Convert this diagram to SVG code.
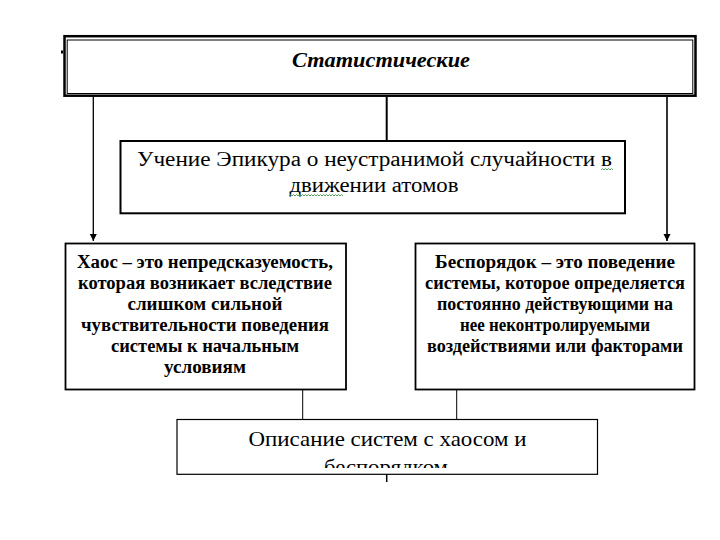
<svg xmlns="http://www.w3.org/2000/svg" width="720" height="540" viewBox="0 0 720 540" font-family="'Liberation Serif', 'Times New Roman', serif">
<style>
.box{fill:#fff;stroke:#000}
.t{fill:#000;text-anchor:middle}
.b{font-weight:bold;font-size:18px}
.c{stroke:#000;fill:none}
.sq{stroke:#2e8b2e;stroke-width:0.8;fill:none}
</style>
<defs>
<marker id="ar" markerWidth="8" markerHeight="8" refX="7" refY="4" orient="auto" markerUnits="userSpaceOnUse">
<path d="M0,0.5 L7,4 L0,7.5 Z" fill="#000"/>
</marker>
<clipPath id="clipB"><rect x="177" y="420" width="420" height="48"/></clipPath>
</defs>
<rect width="720" height="540" fill="#fff"/>

<g id="connectors">
<line class="c" x1="386.7" y1="97" x2="386.7" y2="141" stroke-width="2"/>
<line class="c" x1="93.3" y1="97" x2="93.3" y2="241" stroke-width="1.3" marker-end="url(#ar)"/>
<line class="c" x1="667" y1="97" x2="667" y2="241" stroke-width="1.6" marker-end="url(#ar)"/>
<line class="c" x1="302.7" y1="390" x2="302.7" y2="419.5" stroke-width="1"/>
<line class="c" x1="456.7" y1="390" x2="456.7" y2="419.5" stroke-width="1"/>
<line class="c" x1="386.7" y1="474" x2="386.7" y2="482" stroke-width="1.5"/>
</g>

<g id="top" font-family="Liberation Serif, serif">
<rect x="61" y="50.5" width="2" height="3" fill="#000"/>
<rect class="box" x="64.5" y="36.2" width="631" height="59.5" stroke-width="2.5"/>
<rect x="67.2" y="40" width="625.6" height="53.5" fill="none" stroke="#000" stroke-width="1"/>
<text class="t" x="381" y="67" font-size="20" font-weight="bold" font-style="italic" textLength="178" lengthAdjust="spacingAndGlyphs">Статистические</text>
</g>

<g id="epicurus" font-family="Liberation Serif, serif">
<rect class="box" x="120.5" y="141" width="504.5" height="72.3" stroke-width="2"/>
<text class="t" x="374.5" y="166" font-size="20" textLength="475" lengthAdjust="spacingAndGlyphs">Учение Эпикура о неустранимой случайности в</text>
<text class="t" x="374" y="192" font-size="20" textLength="169" lengthAdjust="spacingAndGlyphs">движении атомов</text>
<path class="sq" d="M601,170 l1.5,-1.5 l1.5,1.5 l1.5,-1.5 l1.5,1.5 l1.5,-1.5 l1.5,1.5 l1.5,-1.5 l1.5,1.5"/>
<path class="sq" d="M289,196 l1.5,-1.5 l1.5,1.5 l1.5,-1.5 l1.5,1.5 l1.5,-1.5 l1.5,1.5 l1.5,-1.5 l1.5,1.5 l1.5,-1.5 l1.5,1.5 l1.5,-1.5 l1.5,1.5 l1.5,-1.5 l1.5,1.5 l1.5,-1.5 l1.5,1.5 l1.5,-1.5 l1.5,1.5 l1.5,-1.5 l1.5,1.5 l1.5,-1.5 l1.5,1.5 l1.5,-1.5 l1.5,1.5 l1.5,-1.5 l1.5,1.5 l1.5,-1.5 l1.5,1.5 l1.5,-1.5 l1.5,1.5 l1.5,-1.5 l1.5,1.5 l1.5,-1.5 l1.5,1.5 l1.5,-1.5 l1.5,1.5"/>
</g>

<g id="chaos" font-family="Liberation Serif, serif">
<rect class="box" x="65.5" y="243.5" width="280.5" height="146" stroke-width="1.8"/>
<text class="t b" x="205" y="268" textLength="256" lengthAdjust="spacingAndGlyphs">Хаос – это непредсказуемость,</text>
<text class="t b" x="205" y="289" textLength="254" lengthAdjust="spacingAndGlyphs">которая возникает вследствие</text>
<text class="t b" x="205" y="310" textLength="155" lengthAdjust="spacingAndGlyphs">слишком сильной</text>
<text class="t b" x="205" y="331" textLength="248" lengthAdjust="spacingAndGlyphs">чувствительности поведения</text>
<text class="t b" x="205" y="352" textLength="188" lengthAdjust="spacingAndGlyphs">системы к начальным</text>
<text class="t b" x="205" y="373" textLength="82" lengthAdjust="spacingAndGlyphs">условиям</text>
</g>

<g id="disorder" font-family="Liberation Serif, serif">
<rect class="box" x="415.5" y="243.5" width="279" height="146" stroke-width="1.8"/>
<text class="t b" x="555" y="268" textLength="240" lengthAdjust="spacingAndGlyphs">Беспорядок – это поведение</text>
<text class="t b" x="555" y="289" textLength="260" lengthAdjust="spacingAndGlyphs">системы, которое определяется</text>
<text class="t b" x="555" y="310" textLength="236" lengthAdjust="spacingAndGlyphs">постоянно действующими на</text>
<text class="t b" x="555" y="331" textLength="190" lengthAdjust="spacingAndGlyphs">нее неконтролируемыми</text>
<text class="t b" x="555" y="352" textLength="256" lengthAdjust="spacingAndGlyphs">воздействиями или факторами</text>
</g>

<g id="description" font-family="Liberation Serif, serif">
<rect class="box" x="177" y="419.5" width="420.5" height="54.8" stroke-width="1.2"/>
<text class="t" x="387.5" y="446" font-size="21" textLength="278" lengthAdjust="spacingAndGlyphs">Описание систем с хаосом и</text>
<text class="t" x="386" y="474" font-size="21" textLength="124" lengthAdjust="spacingAndGlyphs" clip-path="url(#clipB)">беспорядком</text>
</g>
</svg>
